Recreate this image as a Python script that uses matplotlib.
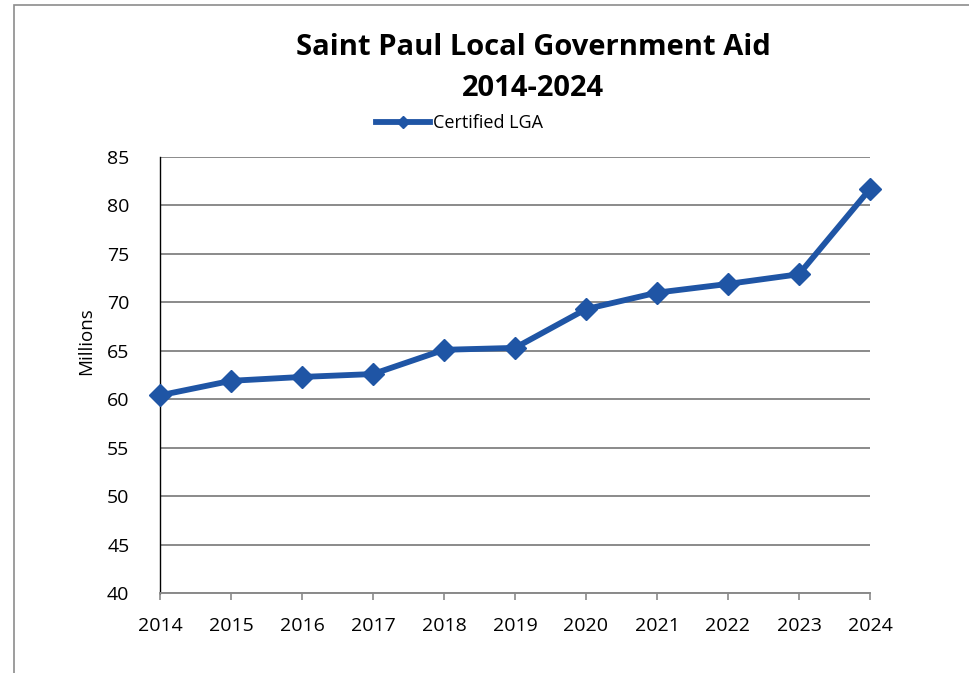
import matplotlib.pyplot as plt
from matplotlib.lines import Line2D
from matplotlib.patches import Rectangle

years = [2014, 2015, 2016, 2017, 2018, 2019, 2020, 2021, 2022, 2023, 2024]
certified_lga = [60.4, 61.9, 62.3, 62.6, 65.1, 65.3, 69.3, 71.0, 71.9, 72.9, 81.7]
y_ticks = [40, 45, 50, 55, 60, 65, 70, 75, 80, 85]

plt.rcParams['font.family'] = ['Open Sans', 'DejaVu Sans']
blue = '#1f55a5'

fig = plt.figure(figsize=(9.7, 6.73), dpi=100)
ax = fig.add_axes([160 / 970, 1 - 593 / 673, 710 / 970, 436 / 673])

# outer chart border (gray frame partly off-image)
fig.patches.append(Rectangle((14 / 970, -0.2), 1.2, 1.2 - 5 / 673, transform=fig.transFigure,
                             fill=False, edgecolor='#8c8c8c', linewidth=1.2))

ax.plot(years, certified_lga, color=blue, linewidth=4.2, marker='D', markersize=11,
        clip_on=False, zorder=3)

ax.set_xlim(2014, 2024)
ax.set_ylim(40, 85)
ax.set_yticks(y_ticks)
ax.set_xticks(years)
ax.grid(axis='y', color='#8a8a8a', linewidth=1.4)
ax.set_axisbelow(True)

for s in ['top', 'right']:
    ax.spines[s].set_visible(False)
ax.spines['left'].set_color('black')
ax.spines['left'].set_linewidth(1.0)
ax.spines['bottom'].set_color('#8a8a8a')
ax.spines['bottom'].set_linewidth(1.4)

ax.tick_params(axis='y', length=0, pad=22, labelsize=14)
ax.tick_params(axis='x', length=5, width=1.2, color='#8a8a8a', pad=12, labelsize=14)

ax.set_ylabel('Millions', fontsize=13.5)
ax.yaxis.set_label_coords(-0.092, 0.578)

fig.text(533 / 970, 1 - 68 / 673, 'Saint Paul Local Government Aid\n2014-2024',
         ha='center', va='center', fontsize=21, fontweight='bold', linespacing=1.55)

# Excel-style legend entry with a small diamond
handle = Line2D([], [], color=blue, linewidth=4.2, marker='D', markersize=6)
ax.legend([handle], ['Certified LGA'], loc='center left', bbox_to_anchor=(376 / 970, 1 - 123 / 673),
          bbox_transform=fig.transFigure, frameon=False, fontsize=13,
          handlelength=3.0, handletextpad=0.15, borderpad=0, borderaxespad=0)

fig.savefig('out.png', dpi=100)
